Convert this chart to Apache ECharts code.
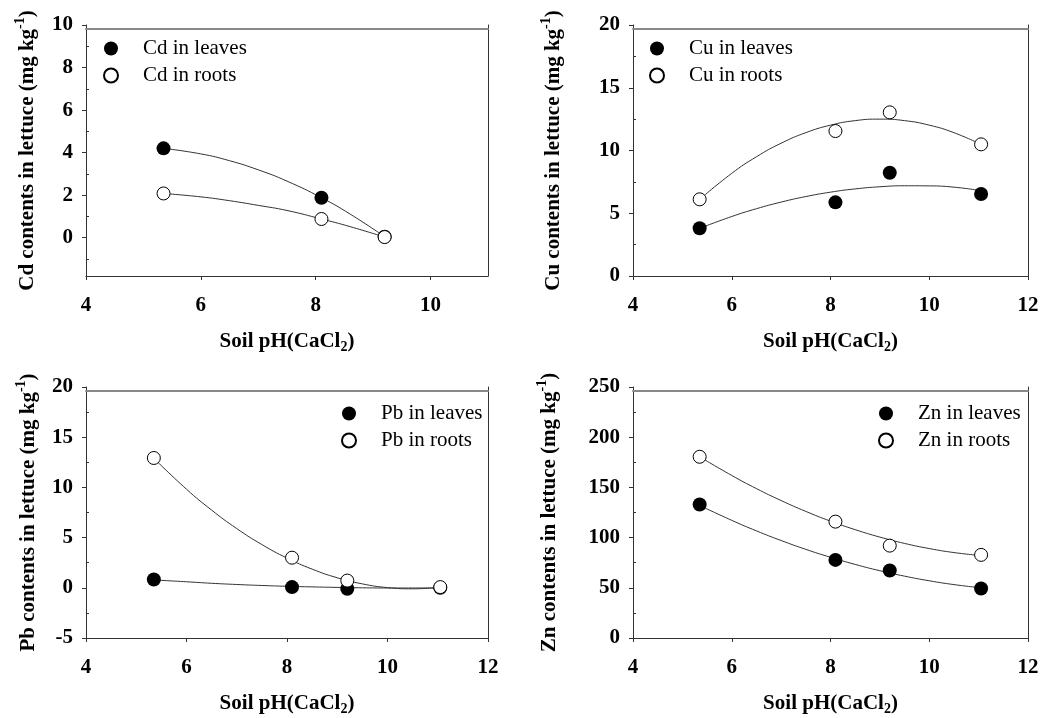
<!DOCTYPE html>
<html>
<head>
<meta charset="utf-8">
<script src="https://cdn.jsdelivr.net/npm/echarts@6/dist/echarts.min.js"></script>
<style>
  html, body { margin: 0; padding: 0; background: #fff; }
  #chart { width: 1051px; height: 718px; }
</style>
</head>
<body>
<div id="chart"></div>
<script>
// soil pH of the four treatments
var phValues = [5.35, 8.1, 9.2, 11.05];
var phCd = [5.35, 8.1, 9.2];

// measured contents (mg kg-1)
var cdLeaves = [4.2, 1.88, 0.05];
var cdRoots = [2.08, 0.88, 0.03];
var cuLeaves = [3.8, 5.87, 8.23, 6.53];
var cuRoots = [6.11, 11.55, 13.04, 10.49];
var pbLeaves = [0.82, 0.07, -0.1, 0.0];
var pbRoots = [12.93, 3.0, 0.72, 0.07];
var znLeaves = [133, 77.8, 67.2, 49.3];
var znRoots = [180.5, 115.9, 92, 82.8];

// fitted curves
var fitPhCd = [5.35, 6, 6.5, 7, 7.5, 8.1, 8.6, 9.2];
var cdLeavesFit = [4.2, 3.94, 3.62, 3.19, 2.66, 1.88, 1.11, 0.05];
var cdRootsFit = [2.08, 1.92, 1.74, 1.52, 1.28, 0.88, 0.52, 0.03];
var fitPh = [5.35, 6, 6.5, 7, 7.5, 8, 8.5, 9, 9.5, 10, 10.5, 11.05];
var cuLeavesFit = [3.8, 4.74, 5.36, 5.89, 6.33, 6.68, 6.94, 7.11, 7.19, 7.18, 7.08, 6.8];
var cuRootsFit = [6.1, 8.18, 9.5, 10.58, 11.42, 12.02, 12.38, 12.5, 12.38, 12.02, 11.42, 10.48];
var pbLeavesFit = [0.78, 0.6, 0.45, 0.33, 0.23, 0.15, 0.09, 0.04, 0.0, -0.02, -0.02, 0.0];
var pbRootsFit = [12.9, 9.82, 7.74, 5.9, 4.31, 2.96, 1.86, 1.0, 0.39, 0.02, -0.1, 0.05];
var znLeavesFit = [132, 117.2, 106.7, 97.1, 88.3, 80.4, 73.3, 67.0, 61.6, 57.0, 53.2, 50.0];
var znRootsFit = [180.5, 161.9, 148.8, 136.9, 126.1, 116.4, 107.9, 100.5, 94.2, 89.1, 85.1, 82.1];

// tick labels
var phTicksCd = [4, 6, 8, 10];
var cdTicks = [0, 2, 4, 6, 8, 10];
var cdMinor = [-1, 1, 3, 5, 7, 9];
var cuMinor = [2.5, 7.5, 12.5, 17.5];
var pbMinor = [-2.5, 2.5, 7.5, 12.5, 17.5];
var znMinor = [25, 75, 125, 175, 225];

var FONT = '"Liberation Serif", "Times New Roman", serif';
var AXIS = '#333';

function pairs(xs, ys) {
  return xs.map(function (x, i) { return [x, ys[i]]; });
}

var rich = {
  sup: { fontFamily: FONT, fontWeight: 'bold', fontSize: 14, padding: [0, 0, 15, 0] },
  sub: { fontFamily: FONT, fontWeight: 'bold', fontSize: 14, padding: [11, 0, 0, 0] }
};

function xAxes(g, xmax, ticks) {
  var main = {
    gridIndex: g, type: 'value', min: 4, max: xmax,
    name: 'Soil pH(CaCl{sub|2})', nameLocation: 'middle', nameGap: 53,
    nameTextStyle: { fontFamily: FONT, fontWeight: 'bold', fontSize: 21, color: '#000', rich: rich },
    axisLine: { onZero: false, lineStyle: { color: AXIS, width: 1 } },
    axisTick: { length: 4, lineStyle: { color: AXIS } },
    axisLabel: { margin: 19, fontFamily: FONT, fontWeight: 'bold', fontSize: 21, color: '#000' },
    splitLine: { show: false }
  };
  if (ticks) {
    main.axisTick.customValues = ticks;
    main.axisLabel.customValues = ticks;
  } else {
    main.interval = 2;
  }
  return [main, {
    // top line of the frame, sits a little under the y max
    gridIndex: g, type: 'value', min: 4, max: xmax, position: 'top', offset: -4,
    axisLine: { onZero: false, lineStyle: { color: '#888', width: 2 } },
    axisTick: { show: false }, axisLabel: { show: false }, splitLine: { show: false }
  }];
}

function yAxes(g, ymin, ymax, step, ticks, minor, title, gap) {
  var main = {
    gridIndex: g, type: 'value', min: ymin, max: ymax,
    name: title, nameLocation: 'middle', nameGap: gap, nameRotate: 90,
    nameTextStyle: { fontFamily: FONT, fontWeight: 'bold', fontSize: 21, color: '#000', rich: rich },
    axisLine: { show: true, onZero: false, lineStyle: { color: AXIS, width: 1 } },
    axisTick: { show: true, length: 4, lineStyle: { color: AXIS } },
    axisLabel: { margin: 13, fontFamily: FONT, fontWeight: 'bold', fontSize: 21, color: '#000' },
    splitLine: { show: false }
  };
  if (ticks) {
    main.axisTick.customValues = ticks;
    main.axisLabel.customValues = ticks;
  } else {
    main.interval = step;
  }
  return [main, {
    // inward minor ticks
    gridIndex: g, type: 'value', min: ymin, max: ymax, position: 'left',
    axisLine: { show: false, onZero: false },
    axisTick: { show: true, inside: true, length: 3, customValues: minor, lineStyle: { color: AXIS } },
    axisLabel: { show: false }, splitLine: { show: false }
  }, {
    // right line of the frame
    gridIndex: g, type: 'value', min: ymin, max: ymax, position: 'right',
    axisLine: { show: true, onZero: false, lineStyle: { color: AXIS, width: 1 } },
    axisTick: { show: false }, axisLabel: { show: false }, splitLine: { show: false }
  }];
}

function pointSeries(name, g, xs, ys, filled) {
  return {
    name: name, type: 'scatter', xAxisIndex: g * 2, yAxisIndex: g * 3,
    data: pairs(xs, ys), symbol: 'circle', symbolSize: filled ? 14 : 13,
    z: filled ? 3 : 4,
    itemStyle: filled
      ? { color: '#000', opacity: 1 }
      : { color: '#fff', borderColor: '#000', borderWidth: 1, opacity: 1 },
    emphasis: { disabled: true }
  };
}

function fitSeries(g, xs, ys) {
  return {
    type: 'line', xAxisIndex: g * 2, yAxisIndex: g * 3,
    data: pairs(xs, ys), showSymbol: false, symbol: 'none', smooth: true, z: 2,
    lineStyle: { color: '#333', width: 1 }, silent: true
  };
}

function legend(left, top, names) {
  return {
    orient: 'vertical', left: left, top: top, itemWidth: 14, itemHeight: 14, itemGap: 6,
    selectedMode: false, data: names,
    textStyle: { fontFamily: FONT, fontSize: 21, color: '#000', padding: [0, 0, 0, 20] }
  };
}

var chart = echarts.init(document.getElementById('chart'), null, { renderer: 'canvas' });

var option = {
  animation: false,
  backgroundColor: '#fff',
  grid: [
    { left: 86, top: 25, width: 402, height: 251 },
    { left: 633, top: 25, width: 395, height: 251 },
    { left: 86, top: 387, width: 402, height: 251 },
    { left: 633, top: 387, width: 395, height: 251 }
  ],
  xAxis: [].concat(xAxes(0, 11, phTicksCd), xAxes(1, 12), xAxes(2, 12), xAxes(3, 12)),
  yAxis: [].concat(
    yAxes(0, -1.8, 10, null, cdTicks, cdMinor, 'Cd contents in lettuce (mg kg{sup|-1})', 44),
    yAxes(1, 0, 20, 5, null, cuMinor, 'Cu contents in lettuce (mg kg{sup|-1})', 65),
    yAxes(2, -5, 20, 5, null, pbMinor, 'Pb contents in lettuce (mg kg{sup|-1})', 43),
    yAxes(3, 0, 250, 50, null, znMinor, 'Zn contents in lettuce (mg kg{sup|-1})', 69)
  ),
  legend: [
    legend(98, 33, ['Cd in leaves', 'Cd in roots']),
    legend(644, 33, ['Cu in leaves', 'Cu in roots']),
    legend(336, 398, ['Pb in leaves', 'Pb in roots']),
    legend(873, 398, ['Zn in leaves', 'Zn in roots'])
  ],
  series: [
    fitSeries(0, fitPhCd, cdLeavesFit),
    fitSeries(0, fitPhCd, cdRootsFit),
    pointSeries('Cd in leaves', 0, phCd, cdLeaves, true),
    pointSeries('Cd in roots', 0, phCd, cdRoots, false),

    fitSeries(1, fitPh, cuLeavesFit),
    fitSeries(1, fitPh, cuRootsFit),
    pointSeries('Cu in leaves', 1, phValues, cuLeaves, true),
    pointSeries('Cu in roots', 1, phValues, cuRoots, false),

    fitSeries(2, fitPh, pbLeavesFit),
    fitSeries(2, fitPh, pbRootsFit),
    pointSeries('Pb in leaves', 2, phValues, pbLeaves, true),
    pointSeries('Pb in roots', 2, phValues, pbRoots, false),

    fitSeries(3, fitPh, znLeavesFit),
    fitSeries(3, fitPh, znRootsFit),
    pointSeries('Zn in leaves', 3, phValues, znLeaves, true),
    pointSeries('Zn in roots', 3, phValues, znRoots, false)
  ]
};

chart.setOption(option);
</script>
</body>
</html>
